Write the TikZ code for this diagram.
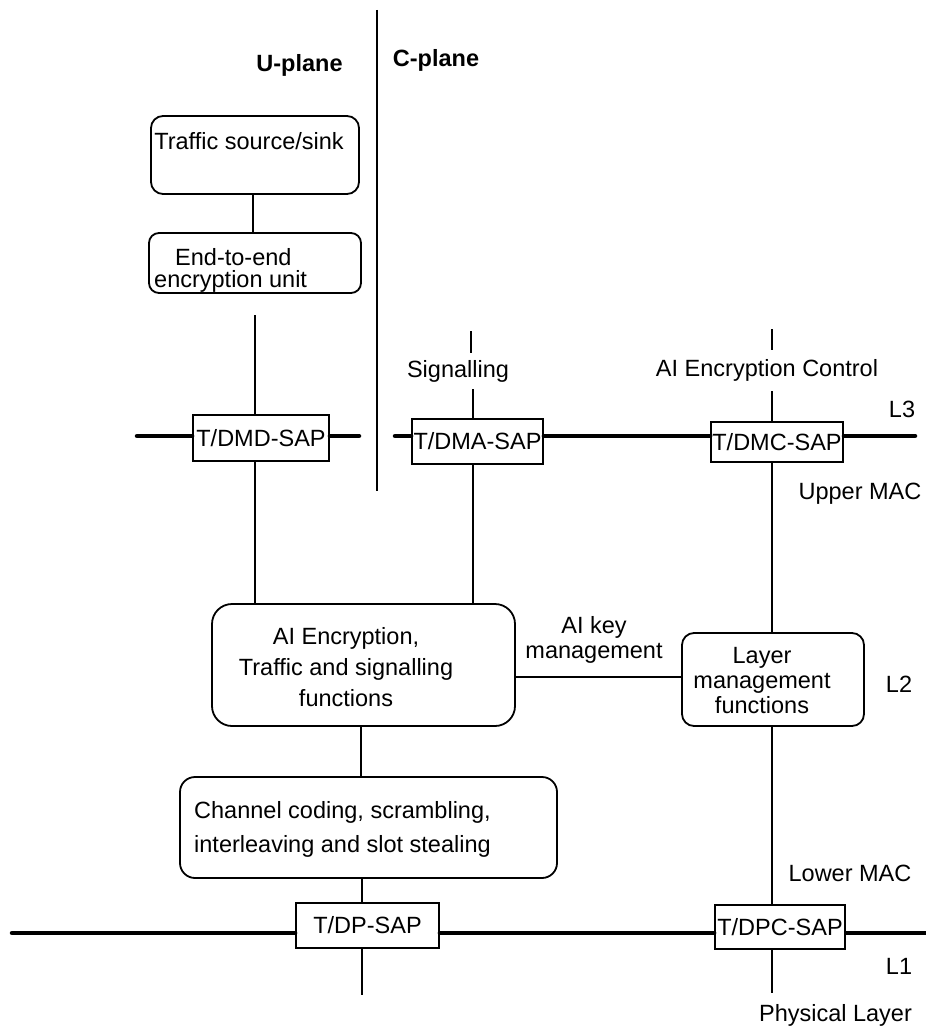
\documentclass[tikz,border=0pt]{standalone}
\usepackage{fontspec}
\setmainfont{Liberation Sans}
\begin{document}
\begin{tikzpicture}[x=1pt,y=-1pt,
  every node/.style={font=\fontsize{23.5pt}{28pt}\selectfont},
  sapbox/.style={draw, line width=1.8pt, inner sep=0pt},
  rbox/.style={draw, line width=1.8pt, inner sep=0pt},
  conn/.style={line width=1.8pt},
  bus/.style={line width=4.5pt, line cap=round},
  txt/.style={inner sep=0pt}
]
\useasboundingbox (0,0) rectangle (926,1032);

% headers and divider
\node[txt, font=\fontsize{23.5pt}{28pt}\selectfont\bfseries] (uplane) at (299.5,65) {U-plane};
\node[txt, font=\fontsize{23.5pt}{28pt}\selectfont\bfseries] (cplane) at (436,60) {C-plane};
\coordinate (divtop) at (377,10);
\coordinate (divbot) at (377,491);
\draw[line width=1.5pt] (divtop) -- (divbot);

% U-plane upper boxes
\node[rbox, rounded corners=12pt, minimum width=208pt, minimum height=78pt] (src) at (255,155) {};
\node[txt] (srcT) at (249,141) {Traffic source/sink};
\node[rbox, rounded corners=10pt, minimum width=212pt, minimum height=60pt] (e2e) at (255,263) {};
\node[txt, align=left, anchor=west, font=\fontsize{23.5pt}{22pt}\selectfont] (e2eT) at (154,270) {\hspace*{21pt}End-to-end\\encryption unit};
\draw[conn] (src.south -| 253,0) -- (e2e.north -| 253,0);

% SAP boxes
\node[sapbox, minimum width=136pt, minimum height=46pt] (dmd) at (261,438) {T/DMD-SAP};
\node[sapbox, minimum width=131pt, minimum height=45pt] (dma) at (477.5,441.5) {T/DMA-SAP};
\node[sapbox, minimum width=132pt, minimum height=40pt] (dmc) at (777,442) {T/DMC-SAP};
\node[sapbox, minimum width=143pt, minimum height=45pt] (dp) at (367.5,925.5) {T/DP-SAP};
\node[sapbox, minimum width=130pt, minimum height=44pt] (dpc) at (780,927) {T/DPC-SAP};

% L2 boxes
\node[rbox, rounded corners=20pt, minimum width=303pt, minimum height=122pt] (ai) at (363.5,665) {};
\node[txt, align=center, font=\fontsize{23.5pt}{31pt}\selectfont] (aiT) at (346,667) {AI Encryption,\\Traffic and signalling\\functions};
\node[rbox, rounded corners=12pt, minimum width=182pt, minimum height=93pt] (lm) at (773,679.5) {};
\node[txt, align=center, font=\fontsize{23.5pt}{25pt}\selectfont] (lmT) at (762,681) {Layer\\management\\functions};
\node[rbox, rounded corners=15pt, minimum width=377pt, minimum height=101pt] (cc) at (368.5,827.5) {};
\node[txt, align=left, anchor=west, font=\fontsize{23.5pt}{34pt}\selectfont] (ccT) at (194,829) {Channel coding, scrambling,\\interleaving and slot stealing};

% labels
\node[txt] (sigT) at (458,371) {Signalling};
\node[txt] (aecT) at (767,370) {AI Encryption Control};
\node[txt, align=center, font=\fontsize{23.5pt}{25pt}\selectfont] (keyT) at (594,640) {AI key\\management};
\node[txt] (l3) at (902,409) {L3};
\node[txt] (l2) at (899,684) {L2};
\node[txt] (l1) at (899,966) {L1};
\node[txt] (umac) at (860,494) {Upper MAC};
\node[txt] (lmac) at (850,873) {Lower MAC};
\node[txt] (phy) at (835.5,1015) {Physical Layer};

% L3 bus
\coordinate (l3a) at (137,436);
\coordinate (l3b) at (359,436);
\coordinate (l3c) at (395,436);
\coordinate (l3d) at (915,436);
\draw[bus] (l3a) -- (l3a -| dmd.west);
\draw[bus] (l3b -| dmd.east) -- (l3b);
\draw[bus] (l3c) -- (l3c -| dma.west);
\draw[bus] (l3c -| dma.east) -- (l3c -| dmc.west);
\draw[bus] (l3d -| dmc.east) -- (l3d);

% L1 bus
\coordinate (l1a) at (12,933);
\coordinate (l1b) at (926,933);
\draw[bus] (l1a) -- (l1a -| dp.west);
\draw[bus] (l1a -| dp.east) -- (l1a -| dpc.west);
\draw[bus, line cap=butt] (l1b -| dpc.east) -- (l1b);

% U-plane vertical
\coordinate (u1) at (255,315);
\draw[conn] (u1) -- (u1 |- dmd.north);
\draw[conn] (u1 |- dmd.south) -- (u1 |- ai.north);

% Signalling vertical
\coordinate (s1) at (471,331);
\coordinate (s2) at (471,353);
\coordinate (s3) at (473,389);
\draw[conn] (s1) -- (s2);
\draw[conn] (s3) -- (s3 |- dma.north);
\draw[conn] (s3 |- dma.south) -- (s3 |- ai.north);

% AI encryption control vertical
\coordinate (c1) at (772,329);
\coordinate (c2) at (772,350);
\coordinate (c3) at (772,391);
\coordinate (c4) at (772,993);
\draw[conn] (c1) -- (c2);
\draw[conn] (c3) -- (c3 |- dmc.north);
\draw[conn] (c3 |- dmc.south) -- (c3 |- lm.north);
\draw[conn] (c3 |- lm.south) -- (c3 |- dpc.north);
\draw[conn] (c3 |- dpc.south) -- (c4);

% AI key management
\coordinate (k) at (600,677);
\draw[conn] (k -| ai.east) -- (k -| lm.west);

% lower U-plane path
\coordinate (p1) at (361,0);
\coordinate (p2) at (362,995);
\draw[conn] (p1 |- ai.south) -- (p1 |- cc.north);
\draw[conn] (p2 |- cc.south) -- (p2 |- dp.north);
\draw[conn] (p2 |- dp.south) -- (p2);
\end{tikzpicture}
\end{document}
